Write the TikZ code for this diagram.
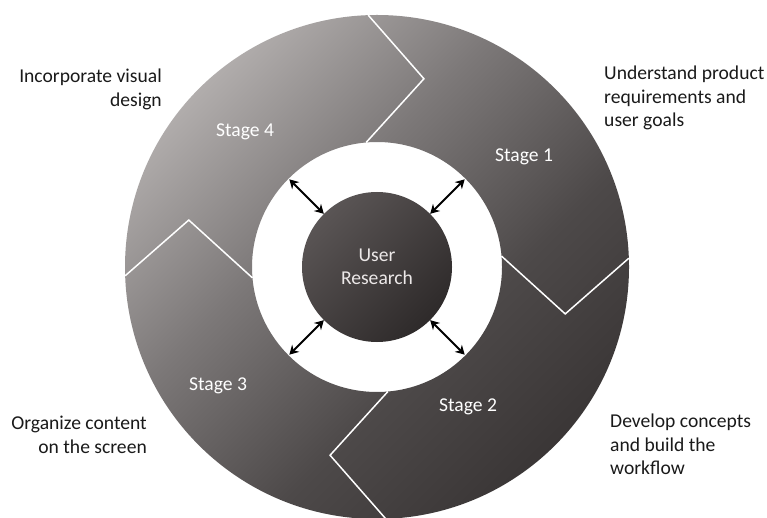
\documentclass[tikz,border=0pt]{standalone}
\usepackage{fontspec}
\setmainfont{Carlito}
\usetikzlibrary{calc,arrows.meta}

% ring and hub tones (warm greys)
\definecolor{ringA}{HTML}{BAB6B5}
\definecolor{ringB}{HTML}{7C7878}
\definecolor{ringC}{HTML}{4D4949}
\definecolor{ringD}{HTML}{393535}
\definecolor{hubA}{HTML}{5A5555}
\definecolor{hubB}{HTML}{2E2A2A}
\definecolor{hubtext}{HTML}{ECE8E8}
\definecolor{labeltext}{HTML}{1A1A1A}

\pgfdeclarehorizontalshading{ringshade}{100bp}{%
  color(0bp)=(ringA); color(22bp)=(ringA); color(42bp)=(ringB);
  color(60bp)=(ringC); color(76bp)=(ringD); color(100bp)=(ringD)}
\pgfdeclarehorizontalshading{hubshade}{100bp}{%
  color(0bp)=(hubA); color(25bp)=(hubA); color(75bp)=(hubB); color(100bp)=(hubB)}

\tikzset{
  divider/.style={draw=white, line width=1.5pt, line join=miter},
  stagelabel/.style={text=white, anchor=base, inner sep=0pt},
  steplabel/.style={text=labeltext, inner sep=0pt},
  link/.style={line width=2pt, {Stealth[length=9pt,width=10pt]}-{Stealth[length=9pt,width=10pt]}},
}

\begin{document}
\begin{tikzpicture}[x=1pt, y=1pt, font=\fontsize{19.6}{23.5}\selectfont]
  \useasboundingbox (0,0) rectangle (767,517);
  \fill[white] (0,0) rectangle (767,517);

  \coordinate (C) at (377,250);

  % outer ring
  \shade[shading=ringshade, shading angle=-45, even odd rule]
    (C) circle[radius=252pt] (C) circle[radius=125pt];

  % chevron separators between the four stages
  \foreach \a in {92,2,-88,182} {
    \draw[divider] ($(C)+(\a:252pt)$) -- ($(C)+({\a-16}:194pt)$) -- ($(C)+({\a+3}:125pt)$);
  }

  % central hub
  \node[circle, minimum size=150pt, inner sep=0pt, shading=hubshade, shading angle=-45,
        text=hubtext, align=center] (hub) at (C) {User\\Research};

  % two-way links between hub and ring
  \foreach \a/\n in {45/ne,135/nw,225/sw,315/se} {
    \coordinate (\n) at ($(C)+(\a:124pt)$);
    \draw[link] (hub.\a) -- (\n);
  }

  % stage names
  \node[stagelabel] (s1) at (524,355) {Stage 1};
  \node[stagelabel] (s2) at (468,106) {Stage 2};
  \node[stagelabel] (s3) at (218,127) {Stage 3};
  \node[stagelabel] (s4) at (245,380) {Stage 4};

  % step descriptions
  \node[steplabel, anchor=north west, align=left] (d1) at (604,451)
    {Understand product\\requirements and\\user goals};
  \node[steplabel, anchor=north west, align=left] (d2) at (610,103)
    {Develop concepts\\and build the\\workflow};
  \node[steplabel, anchor=north east, align=right] (d3) at (147,101)
    {Organize content\\on the screen};
  \node[steplabel, anchor=north east, align=right] (d4) at (162,448)
    {Incorporate visual\\design};
\end{tikzpicture}
\end{document}
